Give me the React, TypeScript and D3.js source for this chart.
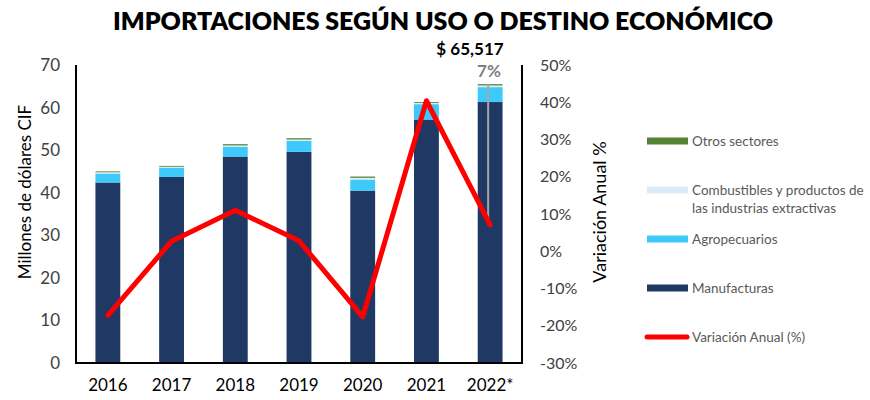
import React from 'react';
import * as d3 from 'd3';

const years = ['2016', '2017', '2018', '2019', '2020', '2021', '2022*'];
const manufacturas = [42.4, 43.7, 48.5, 49.6, 40.5, 57.2, 61.3];
const agropecuarios = [2.1, 2.2, 2.3, 2.6, 2.6, 3.6, 3.5];
const combustibles = [0.3, 0.2, 0.3, 0.3, 0.4, 0.3, 0.4];
const otros = [0.2, 0.2, 0.3, 0.3, 0.3, 0.2, 0.3];
const variacion = [-17.2, 2.7, 11.0, 2.8, -17.6, 40.4, 7.1];
const leftTicks = [0, 10, 20, 30, 40, 50, 60, 70];
const rightTicks = [-30, -20, -10, 0, 10, 20, 30, 40, 50];
const totalLabel = '$ 65,517';
const lastVarLabel = '7%';

const seriesKeys = ['manufacturas', 'agropecuarios', 'combustibles', 'otros'];
const seriesColors: Record<string, string> = {
  manufacturas: '#1F3864',
  agropecuarios: '#3DCAFB',
  combustibles: '#DEEBF7',
  otros: '#548235',
};

const FONT = 'Lato, "Open Sans", sans-serif';

export default function App() {
  const W = 870, H = 400;
  const left = 76, right = 522, top = 65, bottom = 363;

  const x = d3.scaleBand<string>().domain(years).range([left, right]).paddingInner(0.61).paddingOuter(0.305);
  const y = d3.scaleLinear().domain([0, 70]).range([bottom, top]);
  const y2 = d3.scaleLinear().domain([-30, 50]).range([bottom, top]);

  const table = years.map((yr, i) => ({
    year: yr,
    manufacturas: manufacturas[i],
    agropecuarios: agropecuarios[i],
    combustibles: combustibles[i],
    otros: otros[i],
  }));
  const stack = d3.stack<any>().keys(seriesKeys)(table);

  const line = d3
    .line<number>()
    .x((_, i) => (x(years[i]) as number) + x.bandwidth() / 2)
    .y((d) => y2(d));

  const lastIdx = years.length - 1;
  const lastX = (x(years[lastIdx]) as number) + x.bandwidth() / 2;
  const lastTotal = stack[stack.length - 1][lastIdx][1];

  const legend = [
    { key: 'otros', lines: ['Otros sectores'], cy: 141 },
    { key: 'combustibles', lines: ['Combustibles y productos de', 'las industrias extractivas'], cy: 190 },
    { key: 'agropecuarios', lines: ['Agropecuarios'], cy: 239 },
    { key: 'manufacturas', lines: ['Manufacturas'], cy: 288 },
  ];

  return (
    <svg width={W} height={H} style={{ display: 'block', position: 'absolute', left: 0, top: 0 }} fontFamily={FONT}>
      <rect width={W} height={H} fill="#fff" />
      <text x={443} y={30} textAnchor="middle" fontSize={25} fontWeight={800} fill="#000" textLength={660} lengthAdjust="spacingAndGlyphs">
        IMPORTACIONES SEGÚN USO O DESTINO ECONÓMICO
      </text>

      {stack.map((s) => (
        <g key={s.key} fill={seriesColors[s.key]}>
          {s.map((d, i) => (
            <rect key={i} x={x(years[i])} width={x.bandwidth()} y={y(d[1])} height={Math.max(0, y(d[0]) - y(d[1]))} />
          ))}
        </g>
      ))}

      {/* leader line for last point */}
      <line x1={lastX - 2} x2={lastX - 2} y1={y(lastTotal)} y2={y2(variacion[lastIdx])} stroke="#A6A6A6" strokeWidth={2} />

      <path d={line(variacion) || ''} fill="none" stroke="#FF0000" strokeWidth={5} strokeLinejoin="round" strokeLinecap="round" />

      {/* axes */}
      <line x1={left} x2={left} y1={top} y2={bottom} stroke="#000" strokeWidth={2} />
      <line x1={right} x2={right} y1={top} y2={bottom} stroke="#000" strokeWidth={2} />
      <line x1={left - 1} x2={right + 1} y1={bottom} y2={bottom} stroke="#000" strokeWidth={2} />

      {leftTicks.map((t) => (
        <text key={t} x={60} y={y(t)} dy="0.35em" textAnchor="end" fontSize={17} fill="#404040">
          {t}
        </text>
      ))}
      {rightTicks.map((t) => (
        <text key={t} x={540} y={y2(t)} dy="0.35em" textAnchor="start" fontSize={16} fill="#404040">
          {t + '%'}
        </text>
      ))}
      {years.map((yr) => (
        <text key={yr} x={(x(yr) as number) + x.bandwidth() / 2} y={391} textAnchor="middle" fontSize={17} fill="#000">
          {yr}
        </text>
      ))}

      <text transform="translate(31,192) rotate(-90)" textAnchor="middle" fontSize={17} fill="#000">
        Millones de dólares CIF
      </text>
      <text transform="translate(606,212) rotate(-90)" textAnchor="middle" fontSize={18} fill="#000">
        Variación Anual %
      </text>

      <text x={470} y={55} textAnchor="middle" fontSize={17} fontWeight={700} fill="#000">
        {totalLabel}
      </text>
      <text x={489} y={77} textAnchor="middle" fontSize={17} fontWeight={700} fill="#7F7F7F">
        {lastVarLabel}
      </text>

      {legend.map((l) => (
        <g key={l.key}>
          <rect x={647} y={l.cy - 3.5} width={41} height={7} fill={seriesColors[l.key]} />
          {l.lines.map((ln, j) => (
            <text key={j} x={692} y={l.cy + j * 18} dy="0.35em" fontSize={13.5} fill="#595959">
              {ln}
            </text>
          ))}
        </g>
      ))}
      <line x1={647} x2={687} y1={337} y2={337} stroke="#FF0000" strokeWidth={5} strokeLinecap="round" />
      <text x={692} y={337} dy="0.35em" fontSize={13.5} fill="#595959">
        Variación Anual (%)
      </text>
    </svg>
  );
}
